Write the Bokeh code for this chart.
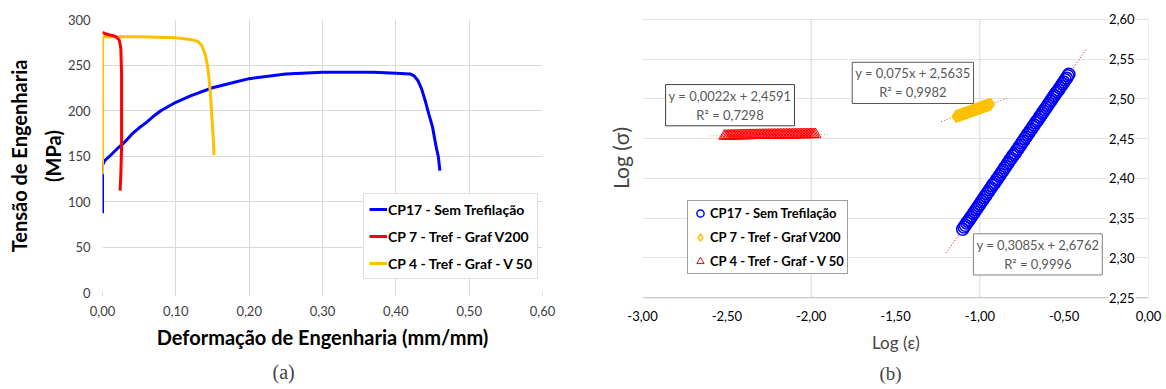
from bokeh.plotting import figure
from bokeh.layouts import row
from bokeh.models import (Legend, LegendItem, Label, Title, Grid, FixedTicker,
                          CustomJSTickFormatter, Range1d)
from bokeh.embed import file_html
from bokeh.resources import INLINE

FONT = "Lato"
TICK_COLOR = "#404040"

# ---------------- Panel (a) data: engineering stress-strain ----------------
a_series = ["CP17 - Sem Trefilação", "CP 7 - Tref - Graf V200", "CP 4 - Tref - Graf - V 50"]
a_colors = ["#0000FF", "#FF0000", "#FFC000"]

cp17_eps = [0.000, 0.000, 0.000, 0.003, 0.010, 0.020, 0.030, 0.040, 0.050, 0.060, 0.070,
            0.080, 0.100, 0.120, 0.150, 0.180, 0.200, 0.250, 0.300, 0.350, 0.370, 0.400,
            0.420, 0.425, 0.430, 0.435, 0.440, 0.445, 0.450, 0.455, 0.458, 0.460]
cp17_sig = [87, 120, 140, 145, 150, 158, 165, 174, 181, 187, 194,
            200, 209, 216, 225, 231, 235, 240, 242, 242, 242, 241,
            240, 238, 233, 224, 211, 196, 182, 160, 149, 134]

cp7_eps = [0.000, 0.005, 0.010, 0.016, 0.020, 0.023, 0.025, 0.026, 0.026, 0.026, 0.025, 0.024]
cp7_sig = [286, 284, 283, 282, 280, 277, 268, 240, 200, 160, 130, 112]

cp4_eps = [0.000, 0.000, 0.002, 0.050, 0.100, 0.120, 0.130, 0.135, 0.140, 0.143, 0.145,
           0.147, 0.149, 0.151, 0.152]
cp4_sig = [130, 280, 281, 281, 280, 278, 276, 272, 262, 250, 237, 220, 195, 170, 151]

a_xticks = [0.0, 0.1, 0.2, 0.3, 0.4, 0.5, 0.6]
a_yticks = [0, 50, 100, 150, 200, 250, 300]

# ---------------- Panel (b) data: log-log ----------------
b_series = ["CP17 - Sem Trefilação", "CP 7 - Tref - Graf V200", "CP 4 - Tref - Graf - V 50"]

blue_logx = [-1.102, -1.094, -1.086, -1.078, -1.070, -1.062, -1.054, -1.046, -1.038, -1.030,
             -1.022, -1.014, -1.006, -0.998, -0.990, -0.982, -0.974, -0.966, -0.958, -0.950,
             -0.942, -0.934, -0.926, -0.918, -0.910, -0.902, -0.894, -0.886, -0.878, -0.870,
             -0.862, -0.854, -0.846, -0.838, -0.830, -0.822, -0.814, -0.806, -0.798, -0.790,
             -0.782, -0.774, -0.766, -0.758, -0.750, -0.742, -0.734, -0.726, -0.718, -0.710,
             -0.702, -0.694, -0.686, -0.678, -0.670, -0.662, -0.654, -0.646, -0.638, -0.630,
             -0.622, -0.614, -0.606, -0.598, -0.590, -0.582, -0.574, -0.566, -0.558, -0.550,
             -0.542, -0.534, -0.526, -0.518, -0.510, -0.502, -0.494, -0.486, -0.478, -0.472]
blue_logy = [2.336, 2.339, 2.341, 2.344, 2.346, 2.348, 2.351, 2.353, 2.356, 2.358,
             2.361, 2.363, 2.366, 2.368, 2.371, 2.373, 2.376, 2.378, 2.381, 2.383,
             2.386, 2.388, 2.391, 2.393, 2.395, 2.398, 2.400, 2.403, 2.405, 2.408,
             2.410, 2.413, 2.415, 2.418, 2.420, 2.423, 2.425, 2.428, 2.430, 2.432,
             2.435, 2.437, 2.440, 2.442, 2.445, 2.447, 2.450, 2.452, 2.455, 2.457,
             2.460, 2.462, 2.465, 2.467, 2.470, 2.472, 2.474, 2.477, 2.479, 2.482,
             2.484, 2.487, 2.489, 2.492, 2.494, 2.497, 2.499, 2.502, 2.504, 2.507,
             2.509, 2.511, 2.514, 2.516, 2.519, 2.521, 2.524, 2.526, 2.529, 2.531]

orange_logx = [-1.140, -1.133, -1.126, -1.119, -1.112, -1.105, -1.098, -1.091, -1.084,
               -1.077, -1.070, -1.063, -1.056, -1.049, -1.042, -1.035, -1.028, -1.021,
               -1.014, -1.007, -1.000, -0.993, -0.986, -0.979, -0.972, -0.965, -0.958,
               -0.951, -0.944, -0.938]
orange_logy = [2.4780, 2.4785, 2.4790, 2.4795, 2.4800, 2.4806, 2.4811, 2.4816, 2.4821,
               2.4827, 2.4832, 2.4837, 2.4842, 2.4848, 2.4853, 2.4858, 2.4863, 2.4869,
               2.4874, 2.4879, 2.4885, 2.4890, 2.4895, 2.4900, 2.4906, 2.4911, 2.4916,
               2.4921, 2.4927, 2.4931]

red_logx = [-2.515, -2.506, -2.497, -2.488, -2.479, -2.470, -2.461, -2.452, -2.443, -2.434,
            -2.425, -2.416, -2.407, -2.398, -2.389, -2.380, -2.371, -2.362, -2.353, -2.344,
            -2.335, -2.326, -2.317, -2.308, -2.299, -2.290, -2.281, -2.272, -2.263, -2.254,
            -2.245, -2.236, -2.227, -2.218, -2.209, -2.200, -2.191, -2.182, -2.173, -2.164,
            -2.155, -2.146, -2.137, -2.128, -2.119, -2.110, -2.101, -2.092, -2.083, -2.074,
            -2.065, -2.056, -2.047, -2.038, -2.029, -2.020, -2.011, -2.002, -1.993, -1.984,
            -1.975]
red_logy = [2.4532, 2.4536, 2.4531, 2.4537, 2.4533, 2.4538, 2.4534, 2.4539, 2.4535, 2.4540,
            2.4536, 2.4541, 2.4537, 2.4541, 2.4538, 2.4542, 2.4539, 2.4543, 2.4540, 2.4543,
            2.4541, 2.4544, 2.4542, 2.4545, 2.4543, 2.4545, 2.4544, 2.4546, 2.4544, 2.4547,
            2.4545, 2.4547, 2.4546, 2.4548, 2.4546, 2.4548, 2.4547, 2.4549, 2.4547, 2.4549,
            2.4548, 2.4550, 2.4548, 2.4550, 2.4549, 2.4551, 2.4549, 2.4551, 2.4550, 2.4552,
            2.4550, 2.4552, 2.4551, 2.4552, 2.4551, 2.4553, 2.4552, 2.4553, 2.4552, 2.4553,
            2.4553]

# linear fits shown on the chart (blue, orange, red)
fit_slopes = [0.3085, 0.075, 0.0022]
fit_intercepts = [2.6762, 2.5635, 2.4591]
fit_r2 = ["0,9996", "0,9982", "0,7298"]
fit_x_start = [-1.20, -1.23, -2.60]
fit_x_end = [-0.37, -0.84, -1.90]
fit_line_colors = ["#FF0000", "#C0504D", "#92D050"]

b_xmin, b_xmax = -3.0, 0.0
b_ymin, b_ymax = 2.25, 2.60
b_xticks = [-3.0, -2.5, -2.0, -1.5, -1.0, -0.5, 0.0]
b_xgrid = [-2.0, -1.0, 0.0]
b_yticks = [2.25, 2.30, 2.35, 2.40, 2.45, 2.50, 2.55, 2.60]
b_ylabel_x = -0.24   # where Excel placed the value axis labels (inside the plot)

comma2 = CustomJSTickFormatter(code="return tick.toFixed(2).replace('.', ',');")
comma2b = CustomJSTickFormatter(code="return tick.toFixed(2).replace('.', ',');")

# ======================= Figure (a) =======================
pa = figure(width=575, height=389, x_range=Range1d(0, 0.6), y_range=Range1d(0, 300),
            output_backend="svg", toolbar_location=None,
            min_border_left=102, min_border_right=33, min_border_top=19, min_border_bottom=97)
pa.frame_align = False
pa.outline_line_color = None
pa.background_fill_color = "white"

for g in (pa.xgrid, pa.ygrid):
    g.grid_line_color = "#d9d9d9"
    g.grid_line_width = 1

pa.xaxis.ticker = FixedTicker(ticks=a_xticks)
pa.yaxis.ticker = FixedTicker(ticks=a_yticks)
pa.xgrid.ticker = FixedTicker(ticks=a_xticks)
pa.ygrid.ticker = FixedTicker(ticks=a_yticks)
pa.xaxis.formatter = comma2

for ax in (pa.xaxis, pa.yaxis):
    ax.axis_line_color = None
    ax.minor_tick_line_color = None
    ax.major_label_text_font = FONT
    ax.major_label_text_font_size = "13px"
    ax.major_label_text_color = TICK_COLOR
    ax.axis_label_text_font = FONT
    ax.axis_label_text_font_style = "bold"
    ax.axis_label_text_color = "black"
    ax.major_tick_in = 0

pa.xaxis.major_tick_out = 4
pa.xaxis.major_tick_line_color = "#d9d9d9"
pa.xaxis.major_label_standoff = 9
pa.xaxis.axis_label = "Deformação de Engenharia (mm/mm)"
pa.xaxis.axis_label_text_font_size = "20px"
pa.xaxis.axis_label_standoff = 6

pa.yaxis.major_tick_out = 0
pa.yaxis.major_tick_line_color = None
pa.yaxis.major_label_standoff = 12
pa.yaxis.axis_label = "Tensão de Engenharia\n(MPa)"
pa.yaxis.axis_label_text_font_size = "20px"
pa.yaxis.axis_label_text_line_height = 1.4
pa.yaxis.axis_label_standoff = 0

ra1 = pa.line(cp17_eps, cp17_sig, line_color=a_colors[0], line_width=3)
ra3 = pa.line(cp4_eps, cp4_sig, line_color=a_colors[2], line_width=3)
ra2 = pa.line(cp7_eps, cp7_sig, line_color=a_colors[1], line_width=3)

leg_a = Legend(items=[LegendItem(label=a_series[0], renderers=[ra1]),
                      LegendItem(label=a_series[1], renderers=[ra2]),
                      LegendItem(label=a_series[2], renderers=[ra3])],
               location=(261, 13), orientation="vertical")
leg_a.label_text_font = FONT
leg_a.label_text_font_style = "bold"
leg_a.label_text_font_size = "14px"
leg_a.label_text_color = "black"
leg_a.glyph_width = 18
leg_a.glyph_height = 20
leg_a.label_height = 20
leg_a.label_standoff = 1
leg_a.spacing = 7
leg_a.padding = 5
leg_a.margin = 0
leg_a.border_line_color = "#bfbfbf"
leg_a.border_line_width = 1
leg_a.background_fill_color = "white"
leg_a.background_fill_alpha = 1
pa.add_layout(leg_a, "center")

pa.add_layout(Title(text="(a)", align="left", offset=170, text_font="Liberation Serif",
                    text_font_size="20px", text_font_style="normal", standoff=14), "below")

# ======================= Figure (b) =======================
# the frame extends a little beyond 2.25..2.60 so the in-plot value labels are not clipped
pb = figure(width=591, height=389, x_range=Range1d(b_xmin, b_xmax),
            y_range=Range1d(b_ymin - 0.011, b_ymax + 0.011),
            output_backend="svg", toolbar_location=None, y_axis_location=None,
            min_border_left=67, min_border_right=18, min_border_top=10, min_border_bottom=82)
pb.frame_align = False
pb.outline_line_color = None
pb.xgrid.visible = False

ygrid_b = Grid(dimension=1, ticker=FixedTicker(ticks=b_yticks), grid_line_color="#e3e3e3")
pb.add_layout(ygrid_b)
# vertical gridlines limited to the value range
pb.segment(x0=b_xgrid, y0=[b_ymin] * len(b_xgrid), x1=b_xgrid, y1=[b_ymax] * len(b_xgrid),
           line_color="#d9d9d9", line_width=1)
# category axis baseline at 2.25
pb.segment(x0=[b_xmin], y0=[b_ymin], x1=[b_xmax], y1=[b_ymin], line_color="#bfbfbf", line_width=1)

pb.xaxis.ticker = FixedTicker(ticks=b_xticks)
pb.xaxis.formatter = comma2b
pb.xaxis.axis_line_color = None
pb.xaxis.major_tick_line_color = None
pb.xaxis.minor_tick_line_color = None
pb.xaxis.major_tick_out = 0
pb.xaxis.major_tick_in = 0
pb.xaxis.major_label_standoff = 4
pb.xaxis.major_label_text_font = FONT
pb.xaxis.major_label_text_font_size = "13px"
pb.xaxis.major_label_text_color = "black"
pb.xaxis.axis_label = "Log (ε)"
pb.xaxis.axis_label_text_font = FONT
pb.xaxis.axis_label_text_font_style = "normal"
pb.xaxis.axis_label_text_font_size = "17px"
pb.xaxis.axis_label_standoff = 8

# value-axis labels, drawn inside the plot area as in the original
for t in b_yticks:
    pb.add_layout(Label(x=b_ylabel_x, y=t, text=f"{t:.2f}".replace(".", ","),
                        text_align="left", text_baseline="middle", text_font=FONT,
                        text_font_size="13px", text_color="black",
                        background_fill_color="white", background_fill_alpha=1, padding=1))

pb.add_layout(Title(text="Log (σ)", align="center", text_font=FONT, text_font_size="21px",
                    text_font_style="normal", standoff=20), "left")

# trend lines
for i in range(3):
    xs = [fit_x_start[i], fit_x_end[i]]
    ys = [fit_slopes[i] * x + fit_intercepts[i] for x in xs]
    pb.line(xs, ys, line_color=fit_line_colors[i], line_width=1, line_dash="1 2")

rb_red = pb.scatter(red_logx, red_logy, marker="triangle", size=11, fill_color=None,
                    line_color="#FF0000", line_width=1)
rb_orange = pb.scatter(orange_logx, orange_logy, marker="diamond", size=12, fill_color=None,
                       line_color="#FFC000", line_width=1.5)
rb_blue = pb.scatter(blue_logx, blue_logy, marker="circle", size=12, fill_color=None,
                     line_color="#0000FF", line_width=1.5)

# fit labels
def eq_text(i):
    s = str(fit_slopes[i]).replace(".", ",")
    c = str(fit_intercepts[i]).replace(".", ",")
    return f"y = {s}x + {c}\nR² = {fit_r2[i]}"

label_pos = [(-0.656, 2.3045, "#808080"), (-1.397, 2.520, "#595959"), (-2.481, 2.492, "#404040")]
for i, (lx, ly, bc) in enumerate(label_pos):
    pb.add_layout(Label(x=lx, y=ly, text=eq_text(i), text_align="center", text_baseline="middle",
                        text_font=FONT, text_font_size="13px", text_color="#595959",
                        border_line_color=bc, border_line_width=1,
                        background_fill_color="white", background_fill_alpha=1, padding=3))

leg_b = Legend(items=[LegendItem(label=b_series[0], renderers=[rb_blue]),
                      LegendItem(label=b_series[1], renderers=[rb_orange]),
                      LegendItem(label=b_series[2], renderers=[rb_red])],
               location=(45, 32), orientation="vertical")
leg_b.label_text_font = FONT
leg_b.label_text_font_style = "bold"
leg_b.label_text_font_size = "13px"
leg_b.label_text_color = "black"
leg_b.glyph_width = 18
leg_b.glyph_height = 18
leg_b.label_height = 18
leg_b.label_standoff = 1
leg_b.spacing = 6
leg_b.padding = 3
leg_b.margin = 0
leg_b.border_line_color = "#404040"
leg_b.border_line_width = 1
leg_b.background_fill_color = "white"
pb.add_layout(leg_b, "center")

pb.add_layout(Title(text="(b)", align="left", offset=237, text_font="Liberation Serif",
                    text_font_size="19px", text_font_style="normal", standoff=11), "below")

layout = row(pa, pb)
open("out.html", "w").write(file_html(layout, INLINE))
